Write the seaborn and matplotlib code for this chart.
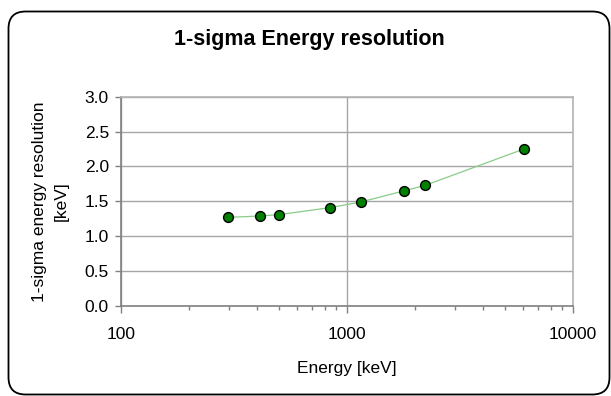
import matplotlib
matplotlib.use("Agg")
import matplotlib.pyplot as plt
from matplotlib.patches import FancyBboxPatch
from matplotlib.ticker import LogLocator, NullFormatter, FixedLocator, FuncFormatter
import seaborn as sns
import pandas as pd

# Measured 1-sigma resolution vs. gamma energy
energy_kev = [298, 412, 503, 844, 1153, 1791, 2228, 6081]
sigma_kev = [1.27, 1.29, 1.31, 1.41, 1.49, 1.65, 1.73, 2.25]
y_ticks = [0.0, 0.5, 1.0, 1.5, 2.0, 2.5, 3.0]
x_ticks = [100, 1000, 10000]

df = pd.DataFrame({"Energy": energy_kev, "Sigma": sigma_kev})

sns.set_theme(style="white")
plt.rcParams["font.family"] = ["Liberation Sans", "DejaVu Sans"]
plt.rcParams["text.color"] = "black"
plt.rcParams["axes.labelcolor"] = "black"

W, H = 611, 396
fig = plt.figure(figsize=(W / 100, H / 100), dpi=100)
fig.patch.set_facecolor("white")

# rounded chart frame
frame = FancyBboxPatch((8.5 / W, 1.5 / H), 601 / W, 383 / H,
                       boxstyle="round,pad=0,rounding_size=0.028",
                       transform=fig.transFigure, facecolor="none",
                       edgecolor="black", linewidth=1.3, zorder=-1,
                       mutation_aspect=W / H)
fig.patches.append(frame)

ax = fig.add_axes([120.7 / W, (H - 306) / H, 452 / W, 209.3 / H])
ax.set_facecolor("white")

sns.lineplot(data=df, x="Energy", y="Sigma", ax=ax, color="#88cc88",
             linewidth=0.9, zorder=3)
sns.scatterplot(data=df, x="Energy", y="Sigma", ax=ax, color="#008000",
                edgecolor="black", linewidth=1.0, s=50, zorder=4)

ax.set_xscale("log")
ax.set_xlim(100, 10000)
ax.set_ylim(0, 3.0)

ax.xaxis.set_major_locator(FixedLocator(x_ticks))
ax.xaxis.set_major_formatter(FuncFormatter(lambda v, p: f"{int(v)}"))
ax.xaxis.set_minor_locator(LogLocator(base=10, subs=range(2, 10)))
ax.xaxis.set_minor_formatter(NullFormatter())
ax.yaxis.set_major_locator(FixedLocator(y_ticks))
ax.yaxis.set_major_formatter(FuncFormatter(lambda v, p: f"{v:.1f}"))

ax.grid(True, which="major", axis="both", color="#a6a6a6", linewidth=1.0)
ax.set_axisbelow(True)

for side in ("top", "right"):
    ax.spines[side].set_visible(True)
    ax.spines[side].set_color("#b4b4b4")
    ax.spines[side].set_linewidth(1.2)
for side in ("left", "bottom"):
    ax.spines[side].set_color("#808080")
    ax.spines[side].set_linewidth(1.2)

ax.tick_params(axis="both", which="major", direction="out",
               width=1.0, color="#808080", labelsize=12.5, labelcolor="black",
               bottom=True, left=True)
ax.tick_params(axis="x", which="major", length=5, pad=10)
ax.tick_params(axis="y", which="major", length=4.5, pad=4)
ax.tick_params(axis="x", which="minor", direction="out", length=3,
               width=1.0, color="#808080", bottom=True)

ax.set_xlabel("Energy [keV]", fontsize=12.5, labelpad=14)
ax.set_ylabel("1-sigma energy resolution\n[keV]", fontsize=12.5,
              labelpad=11, linespacing=1.6)

fig.text(309 / W, 1 - 40 / H, "1-sigma Energy resolution", ha="center",
         va="center", fontsize=15.5, fontweight="bold", color="black")

fig.savefig("out.png", dpi=100, facecolor="white")
